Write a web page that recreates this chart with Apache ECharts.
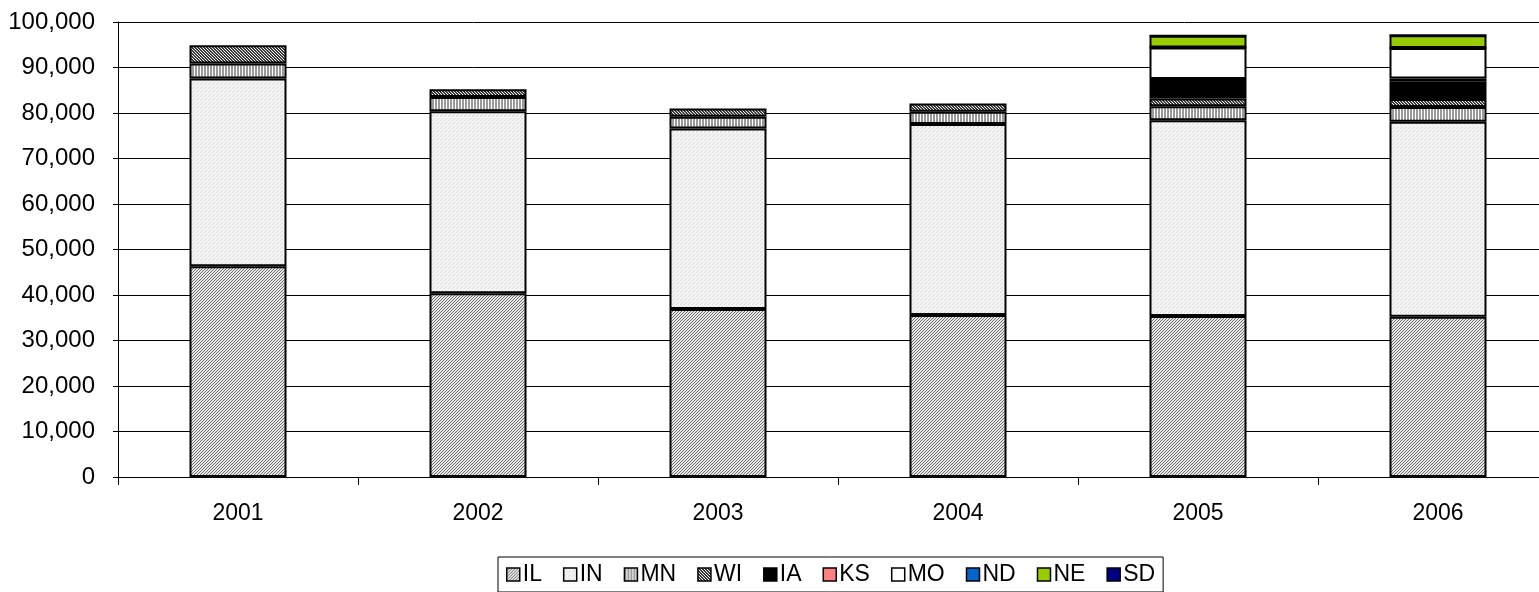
<!DOCTYPE html>
<html>
<head>
<meta charset="utf-8">
<script src="https://cdn.jsdelivr.net/npm/echarts@6/dist/echarts.min.js"></script>
<style>
  html, body { margin: 0; padding: 0; background: #fff; }
  #chart { width: 1539px; height: 592px; }
</style>
</head>
<body>
<div id="chart"></div>
<script>
// years on the x axis
var years = ['2001', '2002', '2003', '2004', '2005', '2006'];
var states = ['IL', 'IN', 'MN', 'WI', 'IA', 'KS', 'MO', 'ND', 'NE', 'SD'];

// values per state, bottom to top of the stack
var IL = [46300, 40400, 36900, 35600, 35400, 35200];
var IN = [41300, 40000, 39700, 42000, 43000, 42900];
var MN = [3300, 3100, 2600, 2700, 3100, 3200];
var WI = [4000, 1700, 1800, 1800, 1700, 1800];
var IA = [null, null, null, null, 3600, 3900];
var KS = [null, null, null, null, 700, 600];
var MO = [null, null, null, null, 6900, 6700];
var ND = [null, null, null, null, 0, 0];
var NE = [null, null, null, null, 2600, 2800];
var SD = [null, null, null, null, 0, 0];
var values = [IL, IN, MN, WI, IA, KS, MO, ND, NE, SD];

// small tiles for the hatched fills
function tile(w, h, bg, fg, dots) {
    var c = document.createElement('canvas');
    c.width = w; c.height = h;
    var g = c.getContext('2d');
    g.fillStyle = bg;
    g.fillRect(0, 0, w, h);
    g.fillStyle = fg;
    dots.forEach(function (p) { g.fillRect(p[0], p[1], 1, 1); });
    return { image: c, repeat: 'repeat' };
}

// IL: fine diagonal "/" lines
var patIL = tile(3, 3, '#e8e8e8', '#6e6e6e', [[2, 0], [1, 1], [0, 2]]);
// IN: light speckle
var patIN = tile(4, 4, '#f4f4f4', '#d8d8d8', [[0, 0], [2, 2], [1, 3]]);
// MN: vertical stripes
var patMN = tile(3, 1, '#fff', '#9a9a9a', [[0, 0], [1, 0]]);
// WI: dense "\" lines
var patWI = tile(3, 3, '#f4f4f4', '#3a3a3a',
    [[0, 0], [1, 1], [2, 2], [1, 0], [2, 1], [0, 2]]);

var colors = [patIL, patIN, patMN, patWI, '#000000', '#ff8080', '#ffffff', '#0066cc', '#99cc00', '#000080'];

function fmt(v) {
    return String(v).replace(/\B(?=(\d{3})+(?!\d))/g, ',');
}

var series = states.map(function (s, i) {
    return {
        name: s,
        type: 'bar',
        stack: 'total',
        barWidth: 97,
        data: values[i],
        itemStyle: {
            color: colors[i],
            borderColor: '#000',
            borderWidth: 2
        }
    };
});

var myChart = echarts.init(document.getElementById('chart'));
var option = {
    animation: false,
    backgroundColor: '#fff',
    textStyle: { fontFamily: 'Liberation Sans, Arial, sans-serif' },
    grid: { left: 118, top: 22, width: 1440, height: 455, outerBoundsMode: 'none', containLabel: false },
    legend: {
        data: states,
        left: 498,
        top: 557,
        icon: 'rect',
        itemWidth: 13,
        itemHeight: 13,
        itemGap: 21,
        padding: [6, 8, 6, 8],
        borderColor: '#000',
        borderWidth: 1,
        textStyle: { fontSize: 23, color: '#000', padding: [0, 0, 0, -2] },
        itemStyle: { borderColor: '#000', borderWidth: 1.5 }
    },
    xAxis: {
        type: 'category',
        data: years,
        axisLine: { lineStyle: { color: '#000', width: 1 } },
        axisTick: { show: true, length: 8, lineStyle: { color: '#000' } },
        axisLabel: { fontSize: 23, color: '#000', margin: 25 }
    },
    yAxis: {
        type: 'value',
        min: 0,
        max: 100000,
        interval: 10000,
        axisLine: { show: true, lineStyle: { color: '#000', width: 1 } },
        axisTick: { show: true, length: 5, lineStyle: { color: '#000' } },
        axisLabel: { fontSize: 24, color: '#000', margin: 23, formatter: fmt },
        splitLine: { lineStyle: { color: '#000', width: 1 } }
    },
    series: series
};
myChart.setOption(option);
</script>
</body>
</html>
